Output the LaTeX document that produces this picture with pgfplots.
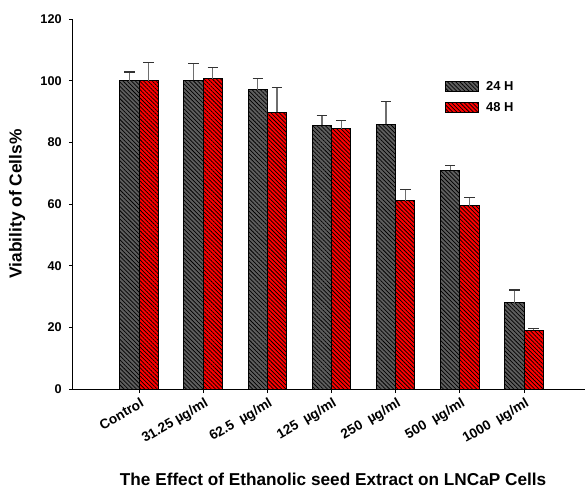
\documentclass[border=0pt]{standalone}
\usepackage{fontspec}
\setmainfont{Liberation Sans}
\usepackage{pgfplots}
\pgfplotsset{compat=1.18}
\usepackage{pgfplotstable}
\usetikzlibrary{patterns.meta}
\definecolor{bargray}{HTML}{5E5E5E}
\definecolor{barred}{HTML}{FF0000}
\definecolor{errgray}{HTML}{6E6E6E}

\pgfplotstableread{
x y err
0 100.0 2.8
1 100.1 5.4
2 97.0 3.7
3 85.6 3.1
4 85.8 7.3
5 71.0 1.5
6 28.0 4.1
}\hA
\pgfplotstableread{
x y err
0 100.0 5.8
1 100.6 3.6
2 89.7 8.2
3 84.4 2.7
4 61.0 3.7
5 59.4 2.7
6 19.0 0.6
}\hB

\begin{document}
\begin{tikzpicture}
\useasboundingbox (-54.75pt,-75pt) rectangle (384pt,291.75pt);
\begin{axis}[
  at={(0,0)}, anchor=south west,
  width=384pt, height=277.5pt, scale only axis,
  ybar=0pt, bar width=0.3,
  xmin=-1.0286, xmax=6.95,
  ymin=0, ymax=120,
  ytick={0,20,40,60,80,100,120},
  xtick={0,1,2,3,4,5,6},
  xticklabels={Control,31.25 µg/ml,62.5\ \ µg/ml,125\ \ µg/ml,250\ \ µg/ml,500\ \ µg/ml,1000\ \ µg/ml},
  axis lines=left,
  axis line style={-, line width=0.75pt, black},
  tick align=outside,
  major tick length=3pt,
  tick style={line width=0.6pt, black},
  /pgf/number format/assume math mode=true,
  tick label style={font=\bfseries\fontsize{9.5}{11}\selectfont},
  yticklabel style={xshift=-2pt},
  xticklabel style={font=\bfseries\fontsize{10.2}{12}\selectfont, rotate=30, anchor=north east, inner sep=1pt, yshift=-2pt},
  xlabel={The Effect of Ethanolic seed Extract on LNCaP Cells},
  xlabel style={font=\bfseries\fontsize{12.9}{15}\selectfont, at={(axis description cs:0.508,-0.262)}, anchor=base},
  ylabel={Viability of Cells\%},
  ylabel style={font=\bfseries\fontsize{13}{15}\selectfont, at={(axis description cs:-0.109,0.5)}, anchor=center},
  error bars/y dir=plus,
  error bars/y explicit,
  error bars/error bar style={line width=0.9pt, errgray},
  error bars/error mark options={line width=0.8pt, mark size=3.9pt, black!80, rotate=90},
  legend style={at={(axis description cs:0.7266,0.836)}, anchor=north west, draw=none, fill=none,
    inner sep=0pt, outer sep=0pt, row sep=5.5pt,
    font=\bfseries\fontsize{9.7}{11}\selectfont,
    nodes={inner sep=1pt}},
  legend cell align=left,
  legend image code/.code={\draw[#1] (0pt,-4pt) rectangle (24.75pt,4pt);},
]
\addplot[draw=black, line width=0.75pt, fill=bargray,
  postaction={pattern={Lines[angle=-45,distance=2.2pt,line width=0.55pt]}, pattern color=black}]
  table[x=x, y=y, y error=err] {\hA};
\addlegendentry{\ \,24 H}
\addplot[draw=black, line width=0.75pt, fill=barred,
  postaction={pattern={Lines[angle=-45,distance=2.2pt,line width=0.55pt]}, pattern color=black}]
  table[x=x, y=y, y error=err] {\hB};
\addlegendentry{\ \,48 H}
\end{axis}
\end{tikzpicture}
\end{document}
